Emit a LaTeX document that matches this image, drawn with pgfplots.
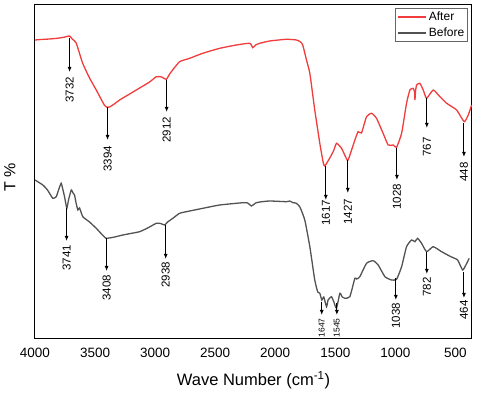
\documentclass[border=0pt]{standalone}
\usepackage{fontspec}
\setmainfont{Liberation Sans}
\usepackage{pgfplots}
\pgfplotsset{compat=1.18}
\usetikzlibrary{arrows.meta}
\definecolor{afterred}{RGB}{240,60,60}
\definecolor{beforegray}{RGB}{82,82,82}
\begin{document}
\begin{tikzpicture}
\begin{axis}[
  scale only axis, width=437pt, height=334pt,
  x dir=reverse, xmin=362, xmax=4000, ymin=56, ymax=390,
  clip=false,
  axis line style={line width=1pt},
  xtick={4000,3500,3000,2500,2000,1500,1000,500},
  ytick=\empty,
  major tick length=0pt,
  /pgf/number format/assume math mode=true,
  /pgf/number format/.cd, 1000 sep={}, /pgfplots/.cd,
  x tick label style={font=\fontsize{13.5}{15}\selectfont, anchor=center, yshift=-14pt},
  xlabel={Wave Number (cm\textsuperscript{-1})},
  xlabel style={at={(axis description cs:0.5,0)}, anchor=center, yshift=-41pt, font=\fontsize{16.5}{18}\selectfont},
  ylabel={T \%},
  ylabel style={at={(axis description cs:0,0.485)}, anchor=center, yshift=25pt, font=\fontsize{16}{18}\selectfont},
  legend style={at={(rel axis cs:0.991,0.991)}, anchor=north east, font=\fontsize{12}{13}\selectfont, draw=black!60, line width=0.6pt, inner sep=1.5pt, row sep=2pt, legend cell align=left},
  legend image code/.code={\draw[#1, line width=2pt] (0pt,0pt) -- (28pt,0pt);},
]
\addplot[afterred, line width=1.3pt, smooth, tension=0.3] coordinates {
(4000,355) (3950,355.5) (3879,356) (3830,356.5) (3796,357) (3750,358) (3712,359) (3690,356) (3657,352) (3604,332) (3546,317) (3490,305) (3446,295) (3420,289.5) (3400,287.7) (3379,288) (3340,291) (3296,295) (3212,301) (3129,307) (3046,313) (2990,318.3) (2946,318) (2907,315.7) (2879,321) (2854,325) (2796,333.3) (2712,336.7) (2604,341.7) (2462,346.7) (2323,350) (2212,351.7) (2187,347.3) (2163,350) (2129,351.7) (2046,354) (1907,355.7) (1823,355) (1790,353) (1771,350) (1740,335) (1712,321.7) (1671,285) (1629,251.7) (1600,232) (1587,229) (1546,237) (1515,244) (1490,251.7) (1448,246.7) (1410,237) (1393,235) (1337,255) (1310,263.3) (1282,262) (1240,278.3) (1198,281.7) (1157,276.7) (1102,261.7) (1060,250) (1018,250) (990,247.7) (948,261.7) (907,291.7) (879,305) (852,306.7) (840,303) (837,295) (832,304) (823,310) (796,311.7) (768,305) (740,296.7) (685,305) (629,298.3) (573,291.7) (490,285) (427,273.3) (393,280) (365,290)
};
\addlegendentry{After}
\addplot[beforegray, line width=1.3pt, smooth, tension=0.3] coordinates {
(4000,215) (3935,210) (3896,205) (3852,196.7) (3823,198.3) (3804,205) (3782,211.7) (3767,205) (3754,198.3) (3735,186.7) (3721,195) (3698,205) (3683,202) (3671,200) (3658,192) (3643,185) (3629,187) (3602,178.3) (3546,173) (3490,166.7) (3446,161) (3407,156.7) (3337,158) (3268,160) (3204,161.5) (3129,163.3) (3062,167) (2990,171.7) (2954,171.5) (2921,170) (2896,173) (2852,176.7) (2796,181.7) (2712,184) (2602,186.7) (2462,190) (2268,192.3) (2229,192) (2198,189) (2163,192) (2129,193) (2046,194) (1907,193.3) (1879,194) (1852,192.3) (1829,192) (1796,188.3) (1754,175) (1712,148.3) (1671,115) (1646,103) (1629,101.7) (1612,95) (1596,98) (1573,88.3) (1560,95) (1532,98.3) (1512,93) (1490,86.7) (1462,101.7) (1442,98) (1421,96.7) (1379,98.3) (1337,116.7) (1321,116) (1296,118.3) (1240,131.7) (1185,134.3) (1143,130) (1087,118.3) (1032,115) (990,115.7) (948,128.3) (907,148.3) (865,155) (837,153.3) (815,156.7) (782,151.7) (740,143.3) (685,148.3) (615,143.3) (538,138.3) (482,135) (440,125) (413,130) (385,136.7)
};
\addlegendentry{Before}
% annotations: After
\tikzset{pk/.style={-{Latex[length=5pt,width=4pt]}, line width=1pt}, lab/.style={rotate=90, font=\fontsize{11.5}{13}\selectfont, inner sep=0pt}, slab/.style={rotate=90, font=\fontsize{8.5}{10}\selectfont, inner sep=0pt}}
\draw[pk] (axis cs:3712,357) -- (axis cs:3712,323);
\node[lab] at (axis cs:3712,305) {3732};
\draw[pk] (axis cs:3396,288) -- (axis cs:3396,255);
\node[lab] at (axis cs:3396,236) {3394};
\draw[pk] (axis cs:2904,315) -- (axis cs:2904,283);
\node[lab] at (axis cs:2904,265) {2912};
\draw[pk] (axis cs:1579,229) -- (axis cs:1579,195);
\node[lab] at (axis cs:1579,182) {1617};
\draw[pk] (axis cs:1396,235) -- (axis cs:1396,202);
\node[lab] at (axis cs:1396,183) {1427};
\draw[pk] (axis cs:987,247) -- (axis cs:987,215);
\node[lab] at (axis cs:987,198) {1028};
\draw[pk] (axis cs:738,297) -- (axis cs:738,267);
\node[lab] at (axis cs:738,248) {767};
\draw[pk] (axis cs:429,272) -- (axis cs:429,238);
\node[lab] at (axis cs:429,223) {448};
% annotations: Before
\draw[pk] (axis cs:3737,187) -- (axis cs:3737,154);
\node[lab] at (axis cs:3737,137) {3741};
\draw[pk] (axis cs:3404,157) -- (axis cs:3404,124);
\node[lab] at (axis cs:3404,107) {3408};
\draw[pk] (axis cs:2912,170) -- (axis cs:2912,136);
\node[lab] at (axis cs:2912,120) {2938};
\draw[pk] (axis cs:1613,93) -- (axis cs:1613,80);
\node[slab] at (axis cs:1613,67) {1647};
\draw[pk] (axis cs:1487,92) -- (axis cs:1487,80);
\node[slab] at (axis cs:1487,67) {1545};
\draw[pk] (axis cs:996,117) -- (axis cs:996,95);
\node[lab] at (axis cs:996,79) {1038};
\draw[pk] (axis cs:738,143) -- (axis cs:738,121);
\node[lab] at (axis cs:738,108) {782};
\draw[pk] (axis cs:429,123) -- (axis cs:429,97);
\node[lab] at (axis cs:429,85) {464};
\end{axis}
\path (-35pt,-56pt) rectangle (445pt,339pt);
\end{tikzpicture}
\end{document}
